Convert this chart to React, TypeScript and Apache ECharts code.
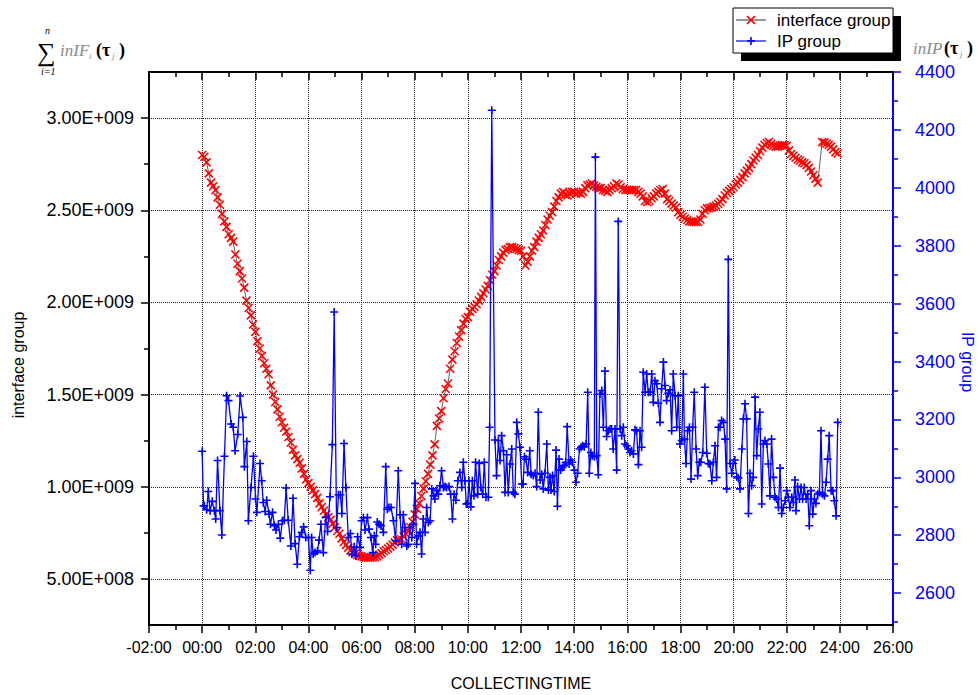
import React, { useEffect, useRef } from 'react';
import * as echarts from 'echarts';

// ---------- data ----------
// interface group (left axis), one value every 5 minutes from 00:00, in units of 1e9 (null = no sample)
const IF_STEP_MIN = 5;
const interfaceGroupE9: (number | null)[] = [
  2.80, 2.79, 2.76, 2.70, 2.65, 2.63, 2.61, 2.57, 2.53, 2.48, 2.44, 2.41,
  2.37, 2.35, 2.33, 2.26, 2.21, 2.17, 2.13, 2.08, 2.01, 1.97, 1.93, 1.88,
  1.84, 1.79, 1.75, 1.71, 1.67, 1.64, 1.61, 1.55, 1.50, 1.46, 1.42, 1.38,
  1.35, 1.32, 1.30, 1.27, 1.24, 1.20, 1.17, 1.15, 1.13, 1.10, 1.07, 1.04,
  1.02, 1.00, 0.98, 0.96, 0.94, 0.91, 0.89, 0.87, 0.85, 0.835, 0.82, 0.80,
  0.78, 0.76, 0.745, 0.72, 0.70, 0.685, 0.67, 0.655, 0.645, 0.637, 0.63, 0.625,
  0.622, 0.619, 0.617, 0.615, 0.615, 0.616, 0.618, 0.624, 0.632, 0.64, 0.65, 0.657,
  0.665, 0.675, 0.686, 0.698, 0.71, 0.712, 0.715, 0.73, 0.745, 0.76, 0.78, 0.81,
  0.85, 0.88, 0.91, 0.95, 0.99, 1.03, 1.07, 1.12, 1.17, 1.23, 1.33, 1.37,
  1.41, 1.48, 1.53, 1.56, 1.64, 1.69, 1.735, 1.78, 1.815, 1.85, 1.885, 1.91,
  1.92, 1.95, 1.965, 1.975, 1.99, 2.01, 2.03, 2.05, 2.07, 2.09, 2.12, 2.15,
  2.17, 2.20, 2.23, 2.25, 2.27, 2.285, 2.29, 2.30, 2.30, 2.295, 2.29, 2.285,
  2.28, 2.25, 2.20, 2.22, 2.25, 2.28, 2.30, 2.33, 2.35, 2.37, 2.39, 2.42,
  2.45, 2.47, 2.49, 2.52, 2.55, 2.57, 2.59, 2.60, 2.585, 2.58, 2.59, 2.60,
  2.60, 2.59, 2.595, 2.59, 2.60, 2.62, 2.635, 2.64, 2.645, 2.635, 2.627, 2.62,
  2.62, 2.61, 2.605, 2.60, 2.61, 2.62, 2.63, 2.645, 2.64, 2.625, 2.615, 2.61,
  2.61, 2.61, 2.61, 2.61, 2.61, 2.60, 2.59, 2.575, 2.55, 2.545, 2.55, 2.565,
  2.575, 2.59, 2.60, 2.61, 2.615, 2.59, 2.56, 2.55, 2.536, 2.525, 2.515, 2.49,
  2.475, 2.465, 2.455, 2.447, 2.44, 2.438, 2.437, 2.436, 2.436, 2.45, 2.48, 2.50,
  2.51, 2.512, 2.515, 2.52, 2.525, 2.535, 2.545, 2.56, 2.58, 2.595, 2.605, 2.615,
  2.625, 2.64, 2.65, 2.665, 2.68, 2.70, 2.715, 2.73, 2.75, 2.77, 2.785, 2.80,
  2.82, 2.84, 2.855, 2.865, 2.87, 2.86, 2.85, 2.845, 2.845, 2.85, 2.853, 2.853,
  2.85, 2.825, 2.805, 2.795, 2.785, 2.775, 2.77, 2.76, 2.755, 2.745, 2.73, 2.71,
  2.69, 2.67, 2.65, null, 2.87, 2.868, 2.862, 2.855, 2.845, 2.83, 2.815, 2.808,
];

// IP group (right axis): [hour of day, value]
const ipGroup: [number, number][] = [
  [0.00, 3090], [0.05, 2902], [0.08, 2902], [0.17, 2888], [0.23, 2951], [0.30, 2885], [0.38, 2917], [0.46, 2885],
  [0.51, 2856], [0.58, 3058], [0.67, 2885], [0.74, 2801], [0.84, 3073], [0.92, 3282], [0.99, 3265], [1.09, 3184],
  [1.17, 3173], [1.24, 3092], [1.34, 3148], [1.43, 3281], [1.53, 3207], [1.59, 3037], [1.68, 3124], [1.74, 2850],
  [1.84, 2965], [1.93, 3073], [2.01, 2925], [2.06, 2879], [2.18, 3048], [2.24, 2988], [2.30, 2913], [2.37, 2882],
  [2.43, 2921], [2.52, 2873], [2.57, 2838], [2.65, 2879], [2.72, 2833], [2.78, 2818], [2.87, 2838], [2.94, 2790],
  [3.02, 2850], [3.09, 2852], [3.16, 2963], [3.24, 2852], [3.34, 2763], [3.42, 2928], [3.50, 2771], [3.58, 2700],
  [3.66, 2795], [3.75, 2810], [3.82, 2829], [3.90, 2792], [4.00, 2792], [4.07, 2679], [4.12, 2792], [4.18, 2735],
  [4.25, 2740], [4.34, 2746], [4.40, 2783], [4.47, 2838], [4.56, 2740], [4.65, 2862], [4.72, 2813], [4.81, 2933],
  [4.90, 3113], [4.97, 3571], [5.06, 2827], [5.13, 2940], [5.20, 2940], [5.26, 2875], [5.34, 3117], [5.41, 2965],
  [5.50, 2792], [5.58, 2806], [5.63, 2735], [5.72, 2760], [5.78, 2729], [5.85, 2795], [5.94, 2758], [6.00, 2850],
  [6.07, 2861], [6.13, 2818], [6.22, 2861], [6.28, 2821], [6.35, 2792], [6.42, 2740], [6.48, 2798], [6.53, 2769],
  [6.59, 2846], [6.66, 2838], [6.73, 2833], [6.82, 2810], [6.91, 3037], [6.97, 2890], [7.03, 2896], [7.11, 2896],
  [7.20, 2850], [7.28, 2781], [7.38, 3023], [7.45, 2871], [7.51, 2769], [7.57, 2871], [7.63, 2827], [7.70, 2763],
  [7.76, 2769], [7.82, 2827], [7.89, 2792], [7.95, 2838], [8.01, 2979], [8.07, 2769], [8.14, 2798], [8.20, 2810],
  [8.26, 2735], [8.32, 2856], [8.39, 2810], [8.45, 2896], [8.51, 2844], [8.58, 2850], [8.64, 2960], [8.71, 2936],
  [8.76, 2925], [8.83, 2954], [8.89, 2942], [8.95, 2971], [9.01, 3023], [9.08, 2965], [9.14, 2968], [9.20, 2965],
  [9.29, 2968], [9.35, 2942], [9.42, 2856], [9.48, 2942], [9.55, 2921], [9.62, 2988], [9.70, 3017], [9.77, 2965],
  [9.83, 3052], [9.89, 2988], [9.94, 2908], [9.99, 2910], [10.04, 2988], [10.11, 2898], [10.17, 2988], [10.23, 2936],
  [10.29, 3052], [10.37, 2942], [10.43, 3048], [10.49, 2965], [10.56, 2942], [10.62, 3052], [10.68, 2931], [10.77, 2931],
  [10.82, 3173], [10.90, 4268], [11.02, 3129], [11.08, 3006], [11.15, 3127], [11.21, 3058], [11.27, 3144], [11.34, 3092],
  [11.40, 2948], [11.46, 3078], [11.52, 2948], [11.59, 3046], [11.65, 3098], [11.71, 2948], [11.77, 2942], [11.84, 3190],
  [11.90, 3150], [11.96, 3104], [12.03, 2977], [12.08, 2977], [12.13, 3071], [12.19, 3063], [12.25, 3017], [12.33, 3092],
  [12.38, 3011], [12.46, 3006], [12.53, 3014], [12.59, 2968], [12.65, 3225], [12.72, 2991], [12.78, 3011], [12.84, 2960],
  [12.90, 3014], [12.97, 3115], [13.03, 2956], [13.09, 3000], [13.13, 2956], [13.19, 3006], [13.25, 2951], [13.32, 3094],
  [13.37, 2900], [13.43, 3063], [13.49, 3025], [13.56, 3034], [13.62, 3040], [13.68, 3052], [13.74, 3175], [13.81, 3046],
  [13.87, 3060], [13.93, 3052], [14.01, 3025], [14.07, 2983], [14.13, 3014], [14.20, 3098], [14.26, 3104], [14.32, 3109],
  [14.38, 3106], [14.45, 3115], [14.51, 3294], [14.57, 3014], [14.63, 3086], [14.68, 3075], [14.76, 3071], [14.80, 4106],
  [14.85, 3075], [14.91, 3009], [14.97, 3288], [15.04, 3300], [15.10, 3173], [15.16, 3367], [15.22, 3141], [15.29, 3161],
  [15.35, 3167], [15.41, 3167], [15.47, 3098], [15.54, 3167], [15.60, 3025], [15.66, 3884], [15.73, 3167], [15.79, 3144],
  [15.85, 3173], [15.91, 3115], [15.98, 3109], [16.04, 3098], [16.10, 3086], [16.16, 3092], [16.23, 3081], [16.29, 3164],
  [16.35, 3161], [16.42, 3044], [16.48, 3161], [16.54, 3104], [16.60, 3363], [16.67, 3294], [16.73, 3357], [16.79, 3294],
  [16.86, 3294], [16.92, 3357], [16.98, 3259], [17.04, 3334], [17.11, 3323], [17.17, 3256], [17.23, 3190], [17.29, 3306],
  [17.36, 3398], [17.42, 3317], [17.48, 3265], [17.54, 3290], [17.61, 3302], [17.67, 3161], [17.73, 3357], [17.80, 3282],
  [17.86, 3173], [17.92, 3282], [17.98, 3115], [18.05, 3127], [18.11, 3357], [18.15, 3132], [18.21, 3048], [18.27, 3161],
  [18.34, 3173], [18.40, 2994], [18.46, 3173], [18.52, 3294], [18.59, 3098], [18.65, 3006], [18.71, 3052], [18.77, 3052],
  [18.84, 3086], [18.92, 3311], [18.99, 3083], [19.05, 3048], [19.11, 3046], [19.18, 2988], [19.24, 3052], [19.30, 3109],
  [19.36, 3000], [19.43, 3173], [19.49, 3173], [19.55, 3196], [19.62, 3190], [19.68, 3132], [19.74, 2960], [19.80, 3753],
  [19.87, 3048], [19.93, 3014], [19.99, 3048], [20.05, 3060], [20.12, 3002], [20.18, 2998], [20.24, 2960], [20.31, 3098],
  [20.37, 3202], [20.43, 3254], [20.49, 3202], [20.56, 2875], [20.62, 3014], [20.68, 2971], [20.74, 3000], [20.81, 3277],
  [20.87, 3075], [20.93, 3167], [20.99, 3225], [21.06, 2908], [21.12, 3115], [21.18, 3127], [21.25, 3115], [21.31, 3046],
  [21.37, 2936], [21.43, 3132], [21.50, 3000], [21.56, 2931], [21.62, 2925], [21.69, 2896], [21.75, 3032], [21.81, 2875],
  [21.87, 2896], [21.94, 2919], [22.00, 2954], [22.06, 2931], [22.12, 2896], [22.19, 2931], [22.25, 2913], [22.31, 2991],
  [22.35, 2885], [22.41, 2968], [22.48, 2925], [22.54, 2965], [22.60, 2925], [22.66, 2965], [22.73, 2925], [22.79, 2942],
  [22.85, 2833], [22.91, 2954], [22.98, 2873], [23.04, 2925], [23.10, 2910], [23.17, 2942], [23.23, 2948], [23.29, 3161],
  [23.35, 2942], [23.42, 2936], [23.48, 2983], [23.54, 3063], [23.60, 3144], [23.67, 2954], [23.73, 2954], [23.79, 2919],
  [23.86, 2867], [23.92, 3190],
];

// axes
const X_MIN = -2;
const X_MAX = 26;
const X_STEP = 2;
const LEFT_MIN = 0.25e9;
const LEFT_MAX = 3.25e9;
const leftMajor = [0.5e9, 1.0e9, 1.5e9, 2.0e9, 2.5e9, 3.0e9];
const leftMinor = [0.75e9, 1.25e9, 1.75e9, 2.25e9, 2.75e9];
const RIGHT_MIN = 2490;
const RIGHT_MAX = 4400;
const rightMajor = [2600, 2800, 3000, 3200, 3400, 3600, 3800, 4000, 4200, 4400];
const rightMinor = [2500, 2700, 2900, 3100, 3300, 3500, 3700, 3900, 4100, 4300];

const SANS = '"Liberation Sans", Arial, sans-serif';
const SERIF = '"Liberation Serif", "Times New Roman", serif';
const BLUE = '#0000ff';
const GRAY_MATH = '#8a8a8a';

function fmtSci(v: number): string {
  const exp = Math.floor(Math.log10(v) + 1e-9);
  const mant = v / Math.pow(10, exp);
  return mant.toFixed(2) + 'E+' + String(exp).padStart(3, '0');
}
function fmtHour(v: number): string {
  const sign = v < 0 ? '-' : '';
  return sign + String(Math.abs(Math.round(v))).padStart(2, '0') + ':00';
}

function mathText(x: number, y: number, text: string, font: string, fill: string) {
  return { type: 'text', x, y, z: 5, style: { text, font, fill, verticalAlign: 'middle' } };
}

export default function App() {
  const ref = useRef<HTMLDivElement>(null);
  useEffect(() => {
    document.body.style.margin = '0';
    const chart = echarts.init(ref.current!, undefined, { renderer: 'svg' });
    const axisBlack = { color: '#000', width: 2 };
    const option: any = {
      animation: false,
      backgroundColor: '#fff',
      grid: { left: 149, right: 85, top: 72, bottom: 70, containLabel: false },
      xAxis: [
        {
          type: 'value', position: 'bottom', min: X_MIN, max: X_MAX, interval: X_STEP,
          axisLine: { show: true, onZero: false, lineStyle: axisBlack },
          axisTick: { show: true, inside: false, length: 8, lineStyle: { color: '#000', width: 1.5 } },
          minorTick: { show: true, splitNumber: 2, length: 5, lineStyle: { color: '#000', width: 1.5 } },
          axisLabel: { formatter: fmtHour, color: '#000', fontFamily: SANS, fontSize: 16, margin: 14 },
          splitLine: { show: true, lineStyle: { color: '#222', width: 1, type: 'dotted' } },
        },
        {
          type: 'value', position: 'top', min: X_MIN, max: X_MAX, interval: X_STEP,
          axisLine: { show: true, onZero: false, lineStyle: axisBlack },
          axisTick: { show: true, inside: true, length: 8, lineStyle: { color: '#000', width: 1.5 } },
          minorTick: { show: true, splitNumber: 2, length: 5, lineStyle: { color: '#000', width: 1.5 } },
          axisLabel: { show: false },
          splitLine: { show: false },
        },
      ],
      yAxis: [
        {
          type: 'value', position: 'left', min: LEFT_MIN, max: LEFT_MAX,
          axisLine: { show: true, onZero: false, lineStyle: axisBlack },
          axisTick: { show: true, inside: false, length: 8, customValues: leftMajor, lineStyle: { color: '#000', width: 1.5 } },
          axisLabel: { customValues: leftMajor, formatter: fmtSci, color: '#000', fontFamily: SANS, fontSize: 18, margin: 15 },
          splitLine: { show: true, lineStyle: { color: '#222', width: 1, type: 'dotted' } },
        },
        {
          type: 'value', position: 'left', min: LEFT_MIN, max: LEFT_MAX,
          axisLine: { show: false, onZero: false },
          axisTick: { show: true, inside: false, length: 5, customValues: leftMinor, lineStyle: { color: '#000', width: 1.5 } },
          axisLabel: { show: false },
          splitLine: { show: false },
        },
        {
          type: 'value', position: 'right', min: RIGHT_MIN, max: RIGHT_MAX,
          axisLine: { show: true, onZero: false, lineStyle: { color: BLUE, width: 2 } },
          axisTick: { show: true, inside: false, length: 8, customValues: rightMajor, lineStyle: { color: BLUE, width: 1.5 } },
          axisLabel: { customValues: rightMajor, formatter: (v: number) => String(v), color: BLUE, fontFamily: SANS, fontSize: 18, margin: 22 },
          splitLine: { show: false },
        },
        {
          type: 'value', position: 'right', min: RIGHT_MIN, max: RIGHT_MAX,
          axisLine: { show: false, onZero: false },
          axisTick: { show: true, inside: false, length: 5, customValues: rightMinor, lineStyle: { color: BLUE, width: 1.5 } },
          axisLabel: { show: false },
          splitLine: { show: false },
        },
      ],
      series: [
        {
          type: 'line', name: 'interface group', xAxisIndex: 0, yAxisIndex: 0,
          data: interfaceGroupE9.map((v, i) => [(i * IF_STEP_MIN) / 60, v === null ? null : v * 1e9]),
          connectNulls: true,
          symbol: 'path://M0,0L10,10M10,0L0,10', symbolSize: 8, showAllSymbol: true,
          lineStyle: { color: '#222', width: 0.7 },
          itemStyle: { color: '#ff0000', borderColor: '#ff0000', borderWidth: 1.6 },
          z: 2,
        },
        {
          type: 'line', name: 'IP group', xAxisIndex: 0, yAxisIndex: 2,
          data: ipGroup,
          symbol: 'path://M5,0L5,10M0,5L10,5', symbolSize: 8, showAllSymbol: true,
          lineStyle: { color: BLUE, width: 1.3 },
          itemStyle: { color: BLUE, borderColor: BLUE, borderWidth: 1.6 },
          z: 3,
        },
      ],
      graphic: [
        // axis names
        { type: 'text', x: 18, y: 365, rotation: Math.PI / 2, style: { text: 'interface group', font: `16px ${SANS}`, fill: '#000', align: 'center', verticalAlign: 'middle' } },
        { type: 'text', x: 967, y: 362, rotation: -Math.PI / 2, style: { text: 'IP group', font: `16px ${SANS}`, fill: BLUE, align: 'center', verticalAlign: 'middle' } },
        { type: 'text', x: 521, y: 683, style: { text: 'COLLECTINGTIME', font: `16px ${SANS}`, fill: '#000', align: 'center', verticalAlign: 'middle' } },
        // left formula
        mathText(37, 52, '\u2211', `26px ${SERIF}`, '#000'),
        mathText(45, 30, 'n', `italic 10px ${SERIF}`, '#000'),
        mathText(41, 71, 'i=1', `italic 10px ${SERIF}`, '#000'),
        mathText(60, 50, 'inIF', `italic 17px ${SERIF}`, GRAY_MATH),
        mathText(89, 56, 'i', `italic 9px ${SERIF}`, GRAY_MATH),
        mathText(96, 50, '(\u03c4', `bold 18px ${SERIF}`, '#000'),
        mathText(112, 56, 'j', `italic 9px ${SERIF}`, GRAY_MATH),
        mathText(119, 50, ')', `bold 18px ${SERIF}`, '#000'),
        // right formula
        mathText(913, 48, 'inIP', `italic 17px ${SERIF}`, GRAY_MATH),
        mathText(944, 48, '(\u03c4', `bold 18px ${SERIF}`, '#000'),
        mathText(960, 54, 'j', `italic 9px ${SERIF}`, GRAY_MATH),
        mathText(967, 48, ')', `bold 18px ${SERIF}`, '#000'),
        // legend
        { type: 'rect', shape: { x: 741, y: 16, width: 160, height: 45 }, style: { fill: '#000' }, z: 10 },
        { type: 'rect', shape: { x: 733, y: 8, width: 160, height: 45 }, style: { fill: '#fff', stroke: '#000', lineWidth: 1 }, z: 11 },
        { type: 'line', shape: { x1: 736, y1: 20, x2: 766, y2: 20 }, style: { stroke: '#333', lineWidth: 1 }, z: 12 },
        { type: 'line', shape: { x1: 747, y1: 16, x2: 755, y2: 24 }, style: { stroke: '#ff0000', lineWidth: 1.7 }, z: 12 },
        { type: 'line', shape: { x1: 755, y1: 16, x2: 747, y2: 24 }, style: { stroke: '#ff0000', lineWidth: 1.7 }, z: 12 },
        { type: 'text', x: 777, y: 20, style: { text: 'interface group', font: `17px ${SANS}`, fill: '#000', verticalAlign: 'middle' }, z: 12 },
        { type: 'line', shape: { x1: 736, y1: 41, x2: 766, y2: 41 }, style: { stroke: BLUE, lineWidth: 1.2 }, z: 12 },
        { type: 'line', shape: { x1: 751, y1: 37, x2: 751, y2: 45 }, style: { stroke: BLUE, lineWidth: 1.6 }, z: 12 },
        { type: 'line', shape: { x1: 747, y1: 41, x2: 755, y2: 41 }, style: { stroke: BLUE, lineWidth: 1.6 }, z: 12 },
        { type: 'text', x: 777, y: 41, style: { text: 'IP group', font: `17px ${SANS}`, fill: '#000', verticalAlign: 'middle' }, z: 12 },
      ],
    };
    chart.setOption(option);
    return () => chart.dispose();
  }, []);
  return <div ref={ref} style={{ position: 'fixed', left: 0, top: 0, width: 978, height: 695 }} />;
}
